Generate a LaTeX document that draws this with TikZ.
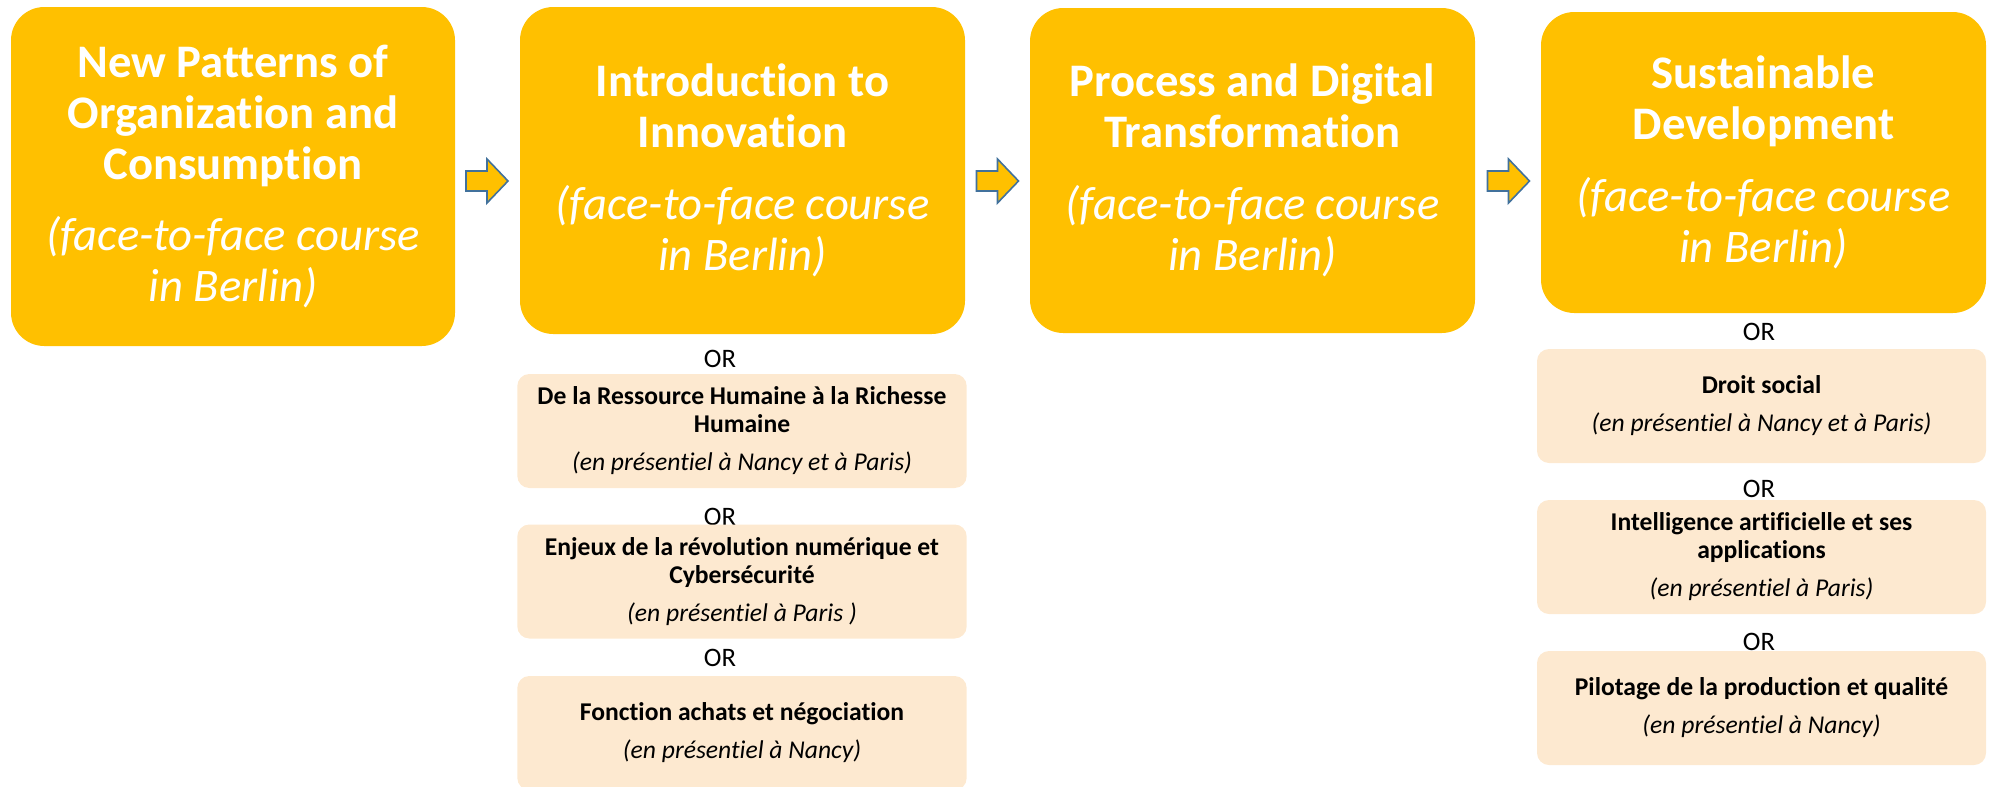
\documentclass[tikz,border=0pt]{standalone}
\usepackage{fontspec}
\setmainfont{Carlito}[Ligatures=NoCommon]
\definecolor{gold}{HTML}{FFC000}
\definecolor{peach}{RGB}{253,233,208}
\definecolor{arrowblue}{HTML}{41719C}
\newcommand{\B}[1]{\textbf{#1}}
\newcommand{\I}[1]{\textit{#1}}
\begin{document}
\begin{tikzpicture}[x=0.75pt,y=-0.75pt,
  mainbox/.style={fill=gold, rounded corners=25pt, text=white, align=center, inner sep=0pt,
    font=\fontsize{35}{38.25}\selectfont},
  subbox/.style={fill=peach, rounded corners=9pt, align=center, inner sep=0pt,
    minimum width=337pt, minimum height=85.5pt, font=\fontsize{19.2}{21}\selectfont},
  orlabel/.style={anchor=base, inner sep=0pt, font=\fontsize{20}{24}\selectfont},
  blockarrow/.pic={\draw[fill=gold, draw=arrowblue, line width=1.2pt, line join=miter]
    (-21,-10) -- (0,-10) -- (0,-22) -- (21,0) -- (0,22) -- (0,10) -- (-21,10) -- cycle;}
]
\useasboundingbox (0,0) rectangle (1995,786);

% main boxes
\node[mainbox, minimum width=333pt, minimum height=254.25pt] (box1) at (233,176.5)
  {\B{New Patterns of}\\\B{Organization and}\\\B{Consumption}\\[15.5pt]\I{(face-to-face course}\\\I{in Berlin)}};
\node[mainbox, minimum width=333.75pt, minimum height=245.25pt] (box2) at (742.5,170.5)
  {\B{Introduction to}\\\B{Innovation}\\[15.5pt]\I{(face-to-face course}\\\I{in Berlin)}};
\node[mainbox, minimum width=333.75pt, minimum height=243.75pt] (box3) at (1252.5,170.5)
  {\B{Process and Digital}\\\B{Transformation}\\[15.5pt]\I{(face-to-face course}\\\I{in Berlin)}};
\node[mainbox, minimum width=333.75pt, minimum height=225.75pt] (box4) at (1763.5,162.5)
  {\B{Sustainable}\\\B{Development}\\[15.5pt]\I{(face-to-face course}\\\I{in Berlin)}};

% block arrows between boxes
\pic at (487,181) {blockarrow};
\pic at (997.5,181) {blockarrow};
\pic at (1508.5,181) {blockarrow};

% options under box 2
\node[orlabel] (or21) at (720,367.5) {OR};
\node[subbox] (s21) at (742,431)
  {\B{De la Ressource Humaine à la Richesse}\\\B{Humaine}\\[7.5pt]\I{(en présentiel à Nancy et à Paris)}};
\node[orlabel] (or22) at (720,525.5) {OR};
\node[subbox] (s22) at (742,581.5)
  {\B{Enjeux de la révolution numérique et}\\\B{Cybersécurité}\\[7.5pt]\I{(en présentiel à Paris )}};
\node[orlabel] (or23) at (720,666.5) {OR};
\node[subbox] (s23) at (742,733)
  {\B{Fonction achats et négociation}\\[7.5pt]\I{(en présentiel à Nancy)}};

% options under box 4
\node[orlabel] (or41) at (1759,340.5) {OR};
\node[subbox, minimum width=336.75pt] (s41) at (1761.5,406)
  {\B{Droit social}\\[7.5pt]\I{(en présentiel à Nancy et à Paris)}};
\node[orlabel] (or42) at (1759,497.5) {OR};
\node[subbox, minimum width=336.75pt] (s42) at (1761.5,557)
  {\B{Intelligence artificielle et ses}\\\B{applications}\\[7.5pt]\I{(en présentiel à Paris)}};
\node[orlabel] (or43) at (1759,650.5) {OR};
\node[subbox, minimum width=336.75pt] (s43) at (1761.5,708)
  {\B{Pilotage de la production et qualité}\\[7.5pt]\I{(en présentiel à Nancy)}};
\end{tikzpicture}
\end{document}
